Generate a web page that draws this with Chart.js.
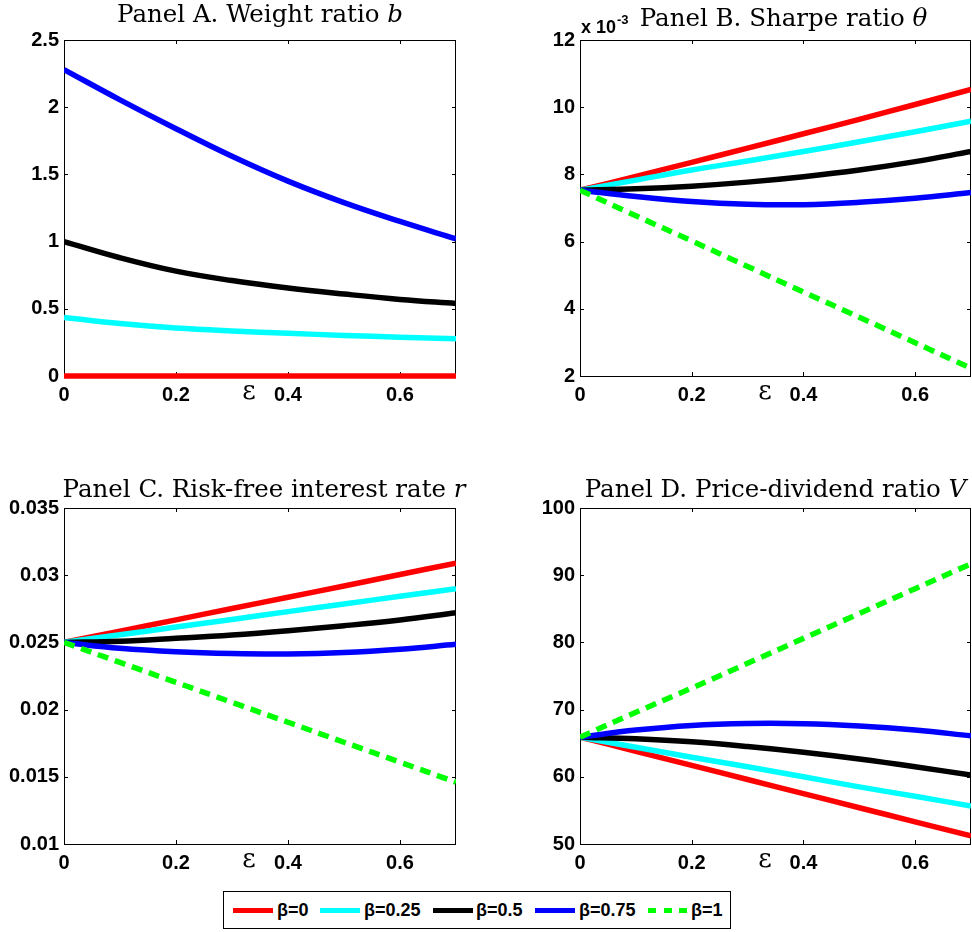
<!DOCTYPE html>
<html>
<head>
<meta charset="utf-8">
<script src="https://cdn.jsdelivr.net/npm/chart.js@4.4.0/dist/chart.umd.min.js"></script>
<style>
  html, body { margin: 0; padding: 0; background: #fff; width: 972px; height: 932px; overflow: hidden; }
  canvas { position: absolute; }
  #legend { position: absolute; left: 223px; top: 891px; width: 508px; height: 38px; border: 1px solid #000; box-sizing: border-box; background: #fff; }
  .sw { position: absolute; top: 16px; height: 5px; }
  .lb { position: absolute; top: 7px; font: bold 18px "Liberation Sans", Arial, sans-serif; line-height: 22px; color: #000; }
</style>
</head>
<body>
<canvas id="panelA" width="480" height="420" style="left:0;top:0"></canvas>
<canvas id="panelB" width="456" height="420" style="left:516px;top:0"></canvas>
<canvas id="panelC" width="480" height="420" style="left:0;top:468px"></canvas>
<canvas id="panelD" width="456" height="420" style="left:516px;top:468px"></canvas>
<div id="legend"></div>
<script>
// x values (epsilon)
const eps = [0, 0.1, 0.2, 0.3, 0.4, 0.5, 0.6, 0.7];
const betaLabels = ['β=0', 'β=0.25', 'β=0.5', 'β=0.75', 'β=1'];
const betaColors = ['#ff0000', '#00ffff', '#000000', '#0000ff', '#00ff00'];

// Panel A: weight ratio b (no beta=1 curve)
const weightB0   = [0, 0, 0, 0, 0, 0, 0, 0];
const weightB025 = [0.435, 0.39, 0.357, 0.335, 0.318, 0.302, 0.289, 0.277];
const weightB05  = [1.00, 0.88, 0.78, 0.71, 0.655, 0.61, 0.57, 0.54];
const weightB075 = [2.28, 2.055, 1.84, 1.635, 1.45, 1.29, 1.15, 1.02];

// Panel B: Sharpe ratio theta, in units of 1e-3
const sharpeB0   = [7.53, 7.94, 8.36, 8.78, 9.21, 9.64, 10.08, 10.53];
const sharpeB025 = [7.53, 7.83, 8.13, 8.40, 8.68, 8.97, 9.27, 9.58];
const sharpeB05  = [7.53, 7.57, 7.65, 7.77, 7.93, 8.13, 8.38, 8.68];
const sharpeB075 = [7.53, 7.34, 7.19, 7.11, 7.10, 7.17, 7.29, 7.46];
const sharpeB1   = [7.53, 6.77, 6.02, 5.26, 4.50, 3.75, 2.99, 2.23];

// Panel C: risk-free rate r
const rateB0   = [0.0250, 0.02584, 0.02668, 0.02752, 0.02836, 0.0292, 0.03005, 0.0309];
const rateB025 = [0.0250, 0.02557, 0.02614, 0.02671, 0.02729, 0.02786, 0.02843, 0.0290];
const rateB05  = [0.0250, 0.02508, 0.0253, 0.02555, 0.02587, 0.02624, 0.02667, 0.02721];
const rateB075 = [0.0250, 0.02456, 0.0243, 0.02417, 0.02414, 0.02424, 0.02449, 0.02486];
const rateB1   = [0.0250, 0.02351, 0.02203, 0.02054, 0.01906, 0.01757, 0.01609, 0.0146];

// Panel D: price-dividend ratio V
const pdB0   = [65.9, 63.8, 61.7, 59.6, 57.5, 55.4, 53.3, 51.2];
const pdB025 = [65.9, 64.4, 62.9, 61.5, 60.0, 58.5, 57.1, 55.65];
const pdB05  = [65.9, 65.65, 65.2, 64.5, 63.65, 62.65, 61.5, 60.25];
const pdB075 = [65.9, 66.95, 67.65, 67.93, 67.9, 67.55, 66.95, 66.1];
const pdB1   = [65.9, 69.6, 73.2, 76.9, 80.6, 84.3, 88.0, 91.7];

Chart.defaults.font.family = '"Liberation Sans", Arial, sans-serif';
Chart.defaults.color = '#000';

// matlab-like box, inward ticks, title, x label
const matlabAxes = {
    id: 'matlabAxes',
    beforeDatasetsDraw(chart, args, opts) {
        const { ctx, chartArea: a, scales: { x, y } } = chart;
        ctx.save();
        ctx.strokeStyle = '#000';
        ctx.lineWidth = 1;
        ctx.strokeRect(a.left + 0.5, a.top + 0.5, a.right - a.left - 1, a.bottom - a.top);
        ctx.beginPath();
        x.ticks.forEach(t => {
            const px = Math.round(x.getPixelForValue(t.value)) + 0.5;
            ctx.moveTo(px, a.bottom); ctx.lineTo(px, a.bottom - 4);
            ctx.moveTo(px, a.top); ctx.lineTo(px, a.top + 4);
        });
        y.ticks.forEach(t => {
            const py = Math.round(y.getPixelForValue(t.value)) + 0.5;
            ctx.moveTo(a.left, py); ctx.lineTo(a.left + 4, py);
            ctx.moveTo(a.right, py); ctx.lineTo(a.right - 4, py);
        });
        ctx.stroke();
        ctx.restore();
    },
    afterDraw(chart, args, opts) {
        const { ctx, chartArea: a } = chart;
        ctx.save();
        ctx.fillStyle = '#000';
        ctx.textBaseline = 'alphabetic';
        ctx.textAlign = 'left';
        // title: plain part + italic variable
        const f1 = '24.5px "DejaVu Serif", serif';
        const f2 = 'italic 24.5px "DejaVu Serif", serif';
        ctx.font = f1;
        const w1 = ctx.measureText(opts.title).width;
        ctx.font = f2;
        const w2 = ctx.measureText(opts.variable).width;
        const cx = (a.left + a.right) / 2 + (opts.titleShift || 0);
        const tx = cx - (w1 + w2) / 2;
        const ty = a.top - opts.titleGap;
        ctx.font = f1;
        ctx.fillText(opts.title, tx, ty);
        ctx.font = f2;
        ctx.fillText(opts.variable, tx + w1, ty);
        // x label
        ctx.font = '26px "DejaVu Serif", serif';
        ctx.textAlign = 'center';
        ctx.fillText('ε', a.left + 185, a.bottom + 23);
        // exponent label
        if (opts.exponent) {
            ctx.textAlign = 'left';
            ctx.font = 'bold 18px "Liberation Sans", Arial, sans-serif';
            ctx.fillText('x 10', a.left + 1, a.top - 7);
            ctx.font = 'bold 13px "Liberation Sans", Arial, sans-serif';
            ctx.fillText('-3', a.left + 37, a.top - 16);
        }
        ctx.restore();
    }
};

function makePanel(id, seriesList, yMin, yMax, yStep, padRight, axesOpts) {
    const datasets = [];
    seriesList.forEach((vals, i) => {
        if (!vals) return;
        datasets.push({
            label: betaLabels[i],
            data: eps.map((x, k) => ({ x: x, y: vals[k] })),
            borderColor: betaColors[i],
            backgroundColor: betaColors[i],
            borderWidth: 5.5,
            borderDash: i === 4 ? [11, 7] : [],
            pointRadius: 0,
            tension: 0.4,
            fill: false,
            clip: { left: 0, right: 0, top: 4, bottom: 4 },
            order: 4 - i
        });
    });
    new Chart(document.getElementById(id).getContext('2d'), {
        type: 'line',
        data: { datasets: datasets },
        options: {
            responsive: false,
            animation: false,
            devicePixelRatio: 1,
            layout: { padding: { top: 40, right: padRight, left: 0, bottom: 0 } },
            plugins: { legend: { display: false }, tooltip: { enabled: false }, matlabAxes: axesOpts },
            scales: {
                x: {
                    type: 'linear',
                    min: 0,
                    max: 0.7,
                    grid: { display: false, drawTicks: false },
                    border: { display: false },
                    ticks: { stepSize: 0.2, includeBounds: false, padding: 7, maxRotation: 0,
                             font: { size: 20, weight: 'bold' },
                             callback: v => String(+v.toFixed(3)) },
                    afterFit: s => { s.height = 44; }
                },
                y: {
                    min: yMin,
                    max: yMax,
                    grid: { display: false, drawTicks: false },
                    border: { display: false },
                    ticks: { stepSize: yStep, padding: 5, font: { size: 20, weight: 'bold' },
                             callback: v => String(+v.toFixed(4)) },
                    afterFit: s => { s.width = 64; }
                }
            }
        },
        plugins: [matlabAxes]
    });
}

makePanel('panelA', [weightB0, weightB025, weightB05, weightB075, null], 0, 2.5, 0.5, 24,
    { title: 'Panel A. Weight ratio ', variable: 'b', titleGap: 18 });
makePanel('panelB', [sharpeB0, sharpeB025, sharpeB05, sharpeB075, sharpeB1], 2, 12, 2, 1,
    { title: 'Panel B. Sharpe ratio ', variable: 'θ', titleGap: 14, titleShift: 8, exponent: true });
makePanel('panelC', [rateB0, rateB025, rateB05, rateB075, rateB1], 0.01, 0.035, 0.005, 24,
    { title: 'Panel C. Risk-free interest rate ', variable: 'r', titleGap: 11, titleShift: 4 });
makePanel('panelD', [pdB0, pdB025, pdB05, pdB075, pdB1], 50, 100, 10, 1,
    { title: 'Panel D. Price-dividend ratio ', variable: 'V', titleGap: 11 });

// legend
const legend = document.getElementById('legend');
const swatchLeft = [9, 96, 209, 311, 424];
const labelLeft = [53, 140, 252, 355, 467];
betaLabels.forEach((lab, i) => {
    const sw = document.createElement('div');
    sw.className = 'sw';
    sw.style.left = swatchLeft[i] + 'px';
    sw.style.width = '40px';
    if (i === 4) {
        sw.style.width = '39px';
        sw.style.background = 'repeating-linear-gradient(to right, ' + betaColors[i] + ' 0 8px, transparent 8px 15.5px)';
    } else {
        sw.style.background = betaColors[i];
    }
    legend.appendChild(sw);
    const t = document.createElement('div');
    t.className = 'lb';
    t.style.left = labelLeft[i] + 'px';
    t.textContent = lab;
    legend.appendChild(t);
});
</script>
</body>
</html>
